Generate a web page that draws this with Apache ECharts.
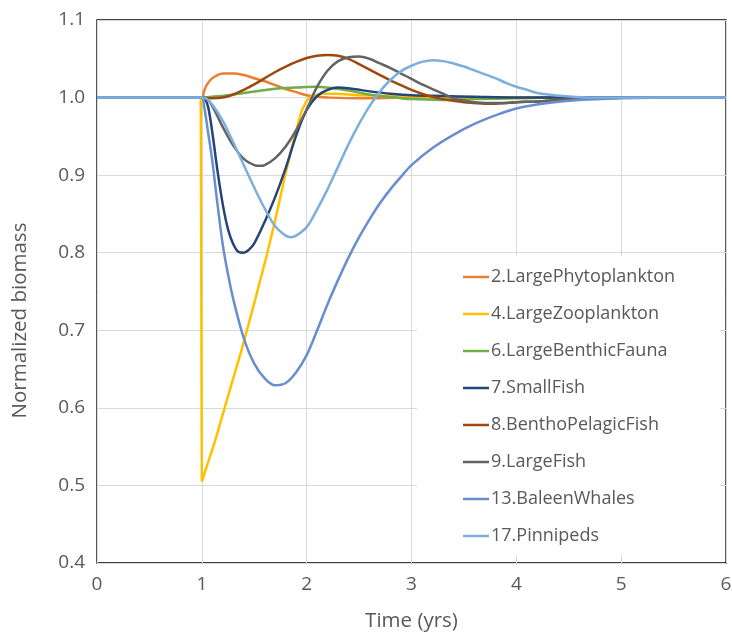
<!DOCTYPE html>
<html>
<head>
<meta charset="utf-8">
<script src="https://cdn.jsdelivr.net/npm/echarts@6/dist/echarts.min.js"></script>
<style>
html,body{margin:0;padding:0;background:#fff;}
#chart{width:732px;height:634px;}
</style>
</head>
<body>
<div id="chart"></div>
<script>
const seriesNames = ['2.LargePhytoplankton','4.LargeZooplankton','6.LargeBenthicFauna','7.SmallFish','8.BenthoPelagicFish','9.LargeFish','13.BaleenWhales','17.Pinnipeds'];
const xTicks = [0,1,2,3,4,5,6];
const yTicks = [0.4,0.5,0.6,0.7,0.8,0.9,1.0,1.1];

const phyto = [[0,1],[1,1],[1.02,1.008],[1.05,1.017],[1.1,1.025],[1.15,1.029],[1.2,1.031],[1.3,1.031],[1.4,1.029],[1.5,1.025],[1.6,1.021],[1.7,1.016],[1.8,1.011],[1.9,1.007],[2.0,1.003],[2.1,1.001],[2.2,1.0],[2.5,0.999],[3,1.0],[6,1.0]];
const zoo = [[0,1],[0.99,1],[1.0,0.505],[1.13,0.559],[1.25,0.615],[1.38,0.675],[1.51,0.740],[1.62,0.797],[1.7,0.842],[1.79,0.897],[1.89,0.953],[1.95,0.982],[2.0,0.996],[2.05,1.002],[2.15,1.005],[2.3,1.005],[2.5,1.003],[2.8,1.002],[3.2,1.001],[3.8,1.0],[6,1.0]];
const benthic = [[0,1],[1,1],[1.1,1.001],[1.25,1.003],[1.4,1.006],[1.57,1.009],[1.75,1.012],[1.9,1.013],[2.08,1.014],[2.25,1.012],[2.4,1.009],[2.55,1.005],[2.7,1.002],[2.85,1.0],[3.0,0.998],[3.3,0.997],[3.6,0.998],[4.0,0.999],[4.5,1.0],[6,1.0]];
const smallFish = [[0,1],[1,1],[1.03,0.998],[1.06,0.988],[1.1,0.955],[1.15,0.905],[1.2,0.862],[1.25,0.830],[1.3,0.811],[1.35,0.801],[1.4,0.800],[1.45,0.804],[1.5,0.812],[1.6,0.840],[1.7,0.872],[1.8,0.909],[1.9,0.951],[2.0,0.984],[2.1,1.002],[2.2,1.010],[2.3,1.013],[2.4,1.012],[2.5,1.010],[2.6,1.008],[2.8,1.005],[3.0,1.003],[3.3,1.002],[3.6,1.001],[4,1.0],[6,1.0]];
const benthoPelagic = [[0,1],[1,1],[1.1,0.999],[1.2,1.0],[1.3,1.004],[1.4,1.010],[1.5,1.017],[1.6,1.025],[1.7,1.033],[1.8,1.040],[1.9,1.046],[2.0,1.051],[2.1,1.054],[2.2,1.055],[2.3,1.054],[2.4,1.050],[2.5,1.043],[2.6,1.036],[2.7,1.029],[2.8,1.022],[2.9,1.016],[3.0,1.010],[3.1,1.005],[3.2,1.001],[3.3,0.998],[3.4,0.996],[3.5,0.994],[3.6,0.993],[3.7,0.992],[3.8,0.992],[3.9,0.993],[4.0,0.994],[4.2,0.995],[4.4,0.997],[4.6,0.998],[4.8,0.999],[5,1.0],[6,1.0]];
const largeFish = [[0,1],[1,1],[1.05,0.998],[1.1,0.989],[1.2,0.962],[1.3,0.938],[1.4,0.921],[1.5,0.913],[1.55,0.912],[1.6,0.913],[1.7,0.922],[1.8,0.937],[1.9,0.958],[2.0,0.985],[2.1,1.014],[2.2,1.035],[2.3,1.047],[2.4,1.052],[2.5,1.053],[2.6,1.050],[2.7,1.044],[2.8,1.038],[2.9,1.031],[3.0,1.024],[3.1,1.017],[3.2,1.011],[3.3,1.005],[3.4,0.999],[3.5,0.996],[3.6,0.994],[3.7,0.993],[3.8,0.993],[3.9,0.993],[4.0,0.994],[4.2,0.995],[4.4,0.997],[4.6,0.998],[4.8,0.999],[5,1.0],[6,1.0]];
const baleen = [[0,1],[1,1],[1.02,0.99],[1.06,0.955],[1.1,0.918],[1.15,0.862],[1.2,0.810],[1.25,0.772],[1.3,0.740],[1.4,0.690],[1.5,0.657],[1.6,0.638],[1.7,0.629],[1.8,0.632],[1.9,0.646],[2.0,0.668],[2.1,0.700],[2.2,0.734],[2.3,0.765],[2.4,0.794],[2.5,0.820],[2.6,0.843],[2.7,0.864],[2.8,0.882],[2.9,0.898],[3.0,0.913],[3.2,0.935],[3.4,0.952],[3.6,0.966],[3.8,0.977],[4.0,0.986],[4.3,0.993],[4.6,0.997],[5,0.999],[5.5,1.0],[6,1.0]];
const pinnipeds = [[0,1],[1,1],[1.05,0.998],[1.1,0.991],[1.2,0.970],[1.3,0.942],[1.4,0.913],[1.5,0.884],[1.6,0.857],[1.7,0.834],[1.8,0.822],[1.85,0.820],[1.9,0.822],[2.0,0.833],[2.1,0.856],[2.2,0.882],[2.3,0.911],[2.4,0.940],[2.5,0.966],[2.6,0.989],[2.7,1.008],[2.8,1.023],[2.9,1.034],[3.0,1.041],[3.1,1.046],[3.2,1.048],[3.3,1.047],[3.4,1.044],[3.5,1.040],[3.6,1.035],[3.7,1.030],[3.8,1.025],[3.9,1.019],[4.0,1.014],[4.1,1.010],[4.2,1.006],[4.3,1.004],[4.45,1.002],[4.7,1.0],[6,1.0]];

const seriesData = [phyto, zoo, benthic, smallFish, benthoPelagic, largeFish, baleen, pinnipeds];
const colors = ['#ED7D31','#FFC000','#70AD47','#264478','#9E480E','#636363','#698ED0','#7CAFDD'];

const FONT = 'Open Sans';
const chart = echarts.init(document.getElementById('chart'), null, {renderer:'canvas'});
chart.setOption({
  animation: false,
  backgroundColor: '#fff',
  color: colors,
  grid: {left: 97, right: 6, top: 20, bottom: 71, show: true, borderColor: '#000', borderWidth: 1.3, containLabel: false, outerBoundsMode: 'none'},
  xAxis: {
    type: 'value', min: xTicks[0], max: xTicks[xTicks.length-1], interval: 1,
    name: 'Time (yrs)', nameLocation: 'middle', nameGap: 48,
    nameTextStyle: {fontFamily: FONT, fontSize: 20.5, color: '#595959'},
    axisLine: {show: false}, axisTick: {show: false},
    axisLabel: {fontFamily: FONT, fontSize: 19, color: '#595959', margin: 12},
    splitLine: {show: true, lineStyle: {color: '#d9d9d9', width: 1}}
  },
  yAxis: {
    type: 'value', min: yTicks[0], max: yTicks[yTicks.length-1], interval: 0.1,
    name: 'Normalized biomass', nameLocation: 'middle', nameGap: 66,
    nameTextStyle: {fontFamily: FONT, fontSize: 20.5, color: '#595959', padding: [0, 58, 0, 0]},
    axisLine: {show: false}, axisTick: {show: false},
    axisLabel: {fontFamily: FONT, fontSize: 19, color: '#595959', margin: 12, formatter: v => v.toFixed(1)},
    splitLine: {show: true, lineStyle: {color: '#d9d9d9', width: 1}}
  },
  legend: {
    orient: 'vertical', left: 417, top: 256,
    padding: [12, 45, 10, 46],
    backgroundColor: '#fff',
    icon: 'rect',
    itemWidth: 26, itemHeight: 2.5, itemGap: 19,
    textStyle: {fontFamily: FONT, fontSize: 18, color: '#595959', padding: [0,0,0,-3]},
    data: seriesNames
  },
  series: seriesNames.map((n, i) => ({
    name: n, type: 'line', data: seriesData[i],
    showSymbol: false, symbol: 'none',
    smooth: i === 1 ? false : 0.35,
    lineStyle: {width: 2.5, color: colors[i]},
    itemStyle: {color: colors[i]}
  }))
});
</script>
</body>
</html>
